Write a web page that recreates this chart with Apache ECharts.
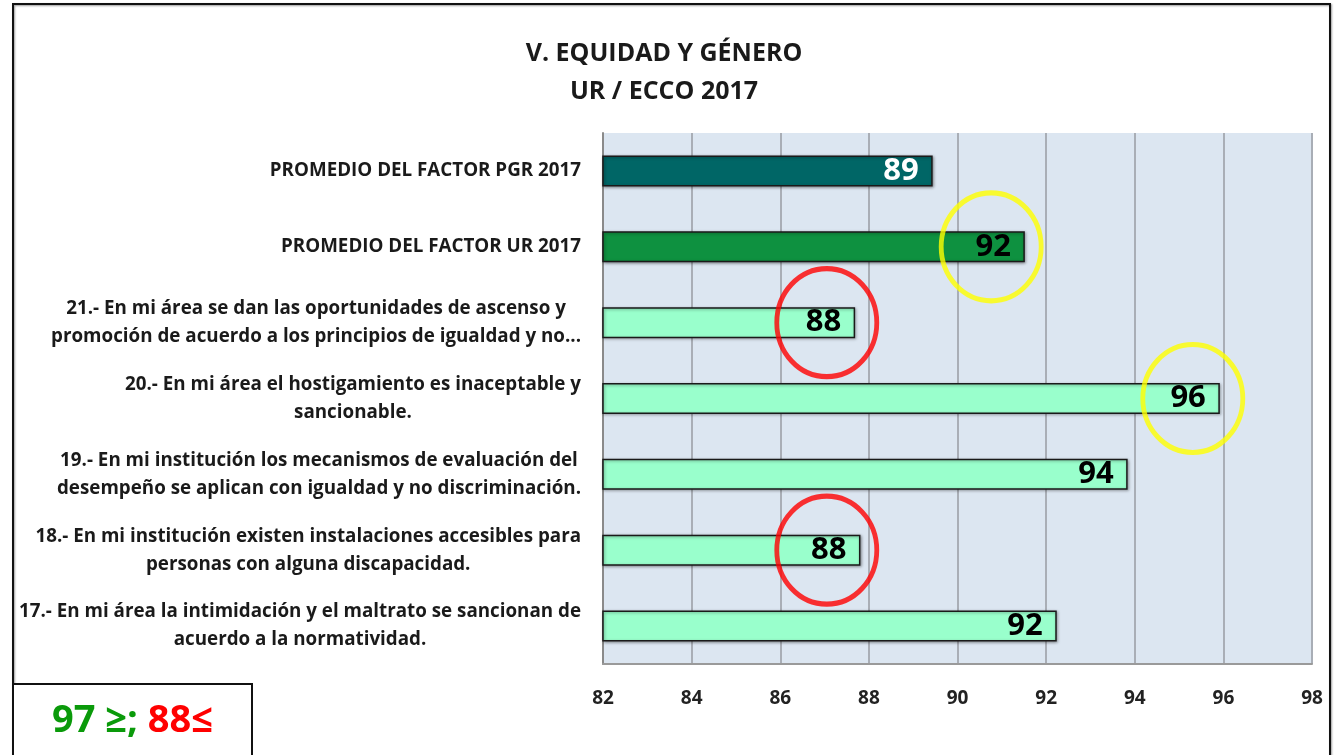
<!DOCTYPE html>
<html>
<head>
<meta charset="utf-8">
<script src="https://cdn.jsdelivr.net/npm/echarts@6/dist/echarts.min.js"></script>
<style>
  html, body { margin: 0; padding: 0; background: #fff; }
  #main { width: 1340px; height: 755px; }
</style>
</head>
<body>
<div id="main"></div>
<script>
// categories, top to bottom
const categories = [
  'PROMEDIO DEL FACTOR PGR 2017',
  'PROMEDIO DEL FACTOR UR 2017',
  '21.- En mi área se dan las oportunidades de ascenso y\npromoción de acuerdo a los principios de igualdad y no...',
  '20.- En mi área el hostigamiento es inaceptable y\nsancionable.',
  '19.- En mi institución los mecanismos de evaluación del\ndesempeño se aplican con igualdad y no discriminación.',
  '18.- En mi institución existen instalaciones accesibles para\npersonas con alguna discapacidad.',
  '17.- En mi área la intimidación y el maltrato se sancionan de\nacuerdo a la normatividad.'
];
const values = [89.44, 91.52, 87.69, 95.92, 93.84, 87.81, 92.24];
const barColors = ['#006666', '#0e9140', '#99ffcc', '#99ffcc', '#99ffcc', '#99ffcc', '#99ffcc'];
const labelColors = ['#ffffff', '#000000', '#000000', '#000000', '#000000', '#000000', '#000000'];
const xTicks = [82, 84, 86, 88, 90, 92, 94, 96, 98];

// highlight circles: [x value, category index]
const yellowMarks = [[90.76, 1], [95.31, 3]];
const redMarks = [[87.05, 2], [87.05, 5]];

const chart = echarts.init(document.getElementById('main'));

const option = {
  backgroundColor: '#ffffff',
  animation: false,
  title: {
    text: 'V. EQUIDAD Y GÉNERO\nUR / ECCO 2017',
    left: 659,
    top: 30,
    textAlign: 'center',
    textStyle: {
      fontFamily: 'Open Sans',
      fontWeight: 'bold',
      fontSize: 25,
      lineHeight: 38,
      color: '#1a1a1a'
    }
  },
  grid: {
    left: 603,
    right: 28,
    top: 133,
    bottom: 91,
    show: true,
    backgroundColor: '#dce6f1',
    borderWidth: 0
  },
  xAxis: {
    type: 'value',
    min: xTicks[0],
    max: xTicks[xTicks.length - 1],
    interval: 2,
    axisLine: { show: true, lineStyle: { color: '#9a9a9a', width: 2 } },
    axisTick: { show: false },
    splitLine: { show: true, lineStyle: { color: '#a9aeb6', width: 2 } },
    axisLabel: {
      margin: 25,
      fontFamily: 'Open Sans',
      fontWeight: 'bold',
      fontSize: 19,
      color: '#222'
    }
  },
  yAxis: {
    type: 'category',
    inverse: true,
    data: categories,
    axisLine: { show: true, lineStyle: { color: '#8a8a8a', width: 2 } },
    axisTick: { show: false },
    axisLabel: {
      margin: 22,
      align: 'right',
      formatter: function (v) {
        return v.split('\n').map(function (l) { return '{c|' + l + '}'; }).join('\n');
      },
      rich: {
        c: {
          align: 'center',
          fontFamily: 'Open Sans',
          fontWeight: 'bold',
          fontSize: 18.8,
          lineHeight: 28,
          color: '#1a1a1a'
        }
      }
    }
  },
  series: [
    {
      type: 'bar',
      barWidth: 31,
      data: values.map(function (v, i) {
        return {
          value: v,
          itemStyle: { color: barColors[i] },
          label: { color: labelColors[i] }
        };
      }),
      itemStyle: {
        borderColor: '#1a1a1a',
        borderWidth: 1.5,
        shadowColor: 'rgba(0,0,0,0.35)',
        shadowBlur: 3,
        shadowOffsetX: 1,
        shadowOffsetY: 1
      },
      label: {
        show: true,
        position: 'insideRight',
        distance: 14,
        fontFamily: 'Open Sans',
        fontWeight: 'bold',
        fontSize: 31,
        formatter: function (p) { return Math.round(p.value); }
      },
      z: 2
    },
    {
      type: 'scatter',
      data: yellowMarks,
      symbol: 'circle',
      symbolSize: [100, 108],
      clip: false,
      itemStyle: { color: 'rgba(0,0,0,0)', borderColor: '#ffff00', borderWidth: 5 },
      z: 5
    },
    {
      type: 'scatter',
      data: redMarks,
      symbol: 'circle',
      symbolSize: [100, 108],
      clip: false,
      itemStyle: { color: 'rgba(0,0,0,0)', borderColor: '#ff0000', borderWidth: 5 },
      z: 5
    }
  ],
  graphic: [
    {
      type: 'rect',
      shape: { x: 13, y: 4, width: 1317, height: 760 },
      style: { fill: 'none', stroke: '#111', lineWidth: 2, shadowColor: 'rgba(0,0,0,0.4)', shadowBlur: 2, shadowOffsetX: 1, shadowOffsetY: 1 },
      silent: true,
      z: 10
    },
    {
      type: 'rect',
      shape: { x: 13, y: 684, width: 239, height: 80 },
      style: { fill: '#ffffff', stroke: '#111', lineWidth: 2 },
      z: 11
    },
    {
      type: 'text',
      left: 52,
      top: 702,
      style: {
        text: '{g|97 ≥; }{r|88≤}',
        rich: {
          g: { fontFamily: 'Open Sans', fontWeight: 'bold', fontSize: 38, fill: '#0a9a0a' },
          r: { fontFamily: 'Open Sans', fontWeight: 'bold', fontSize: 38, fill: '#ff0000' }
        }
      },
      z: 12
    }
  ]
};

chart.setOption(option);
</script>
</body>
</html>
